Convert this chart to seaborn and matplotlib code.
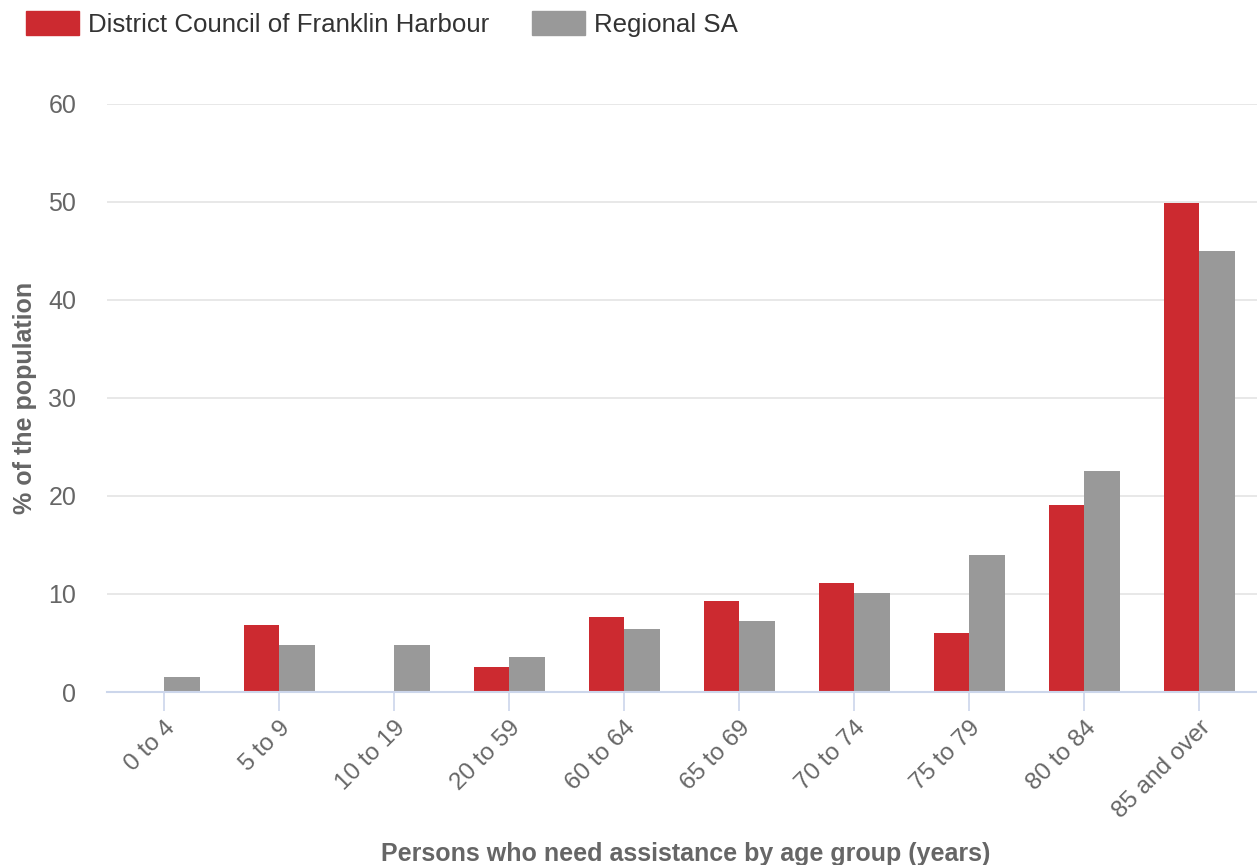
import matplotlib
matplotlib.use("Agg")
import matplotlib.pyplot as plt
import seaborn as sns
import pandas as pd

# data
age_groups = ["0 to 4", "5 to 9", "10 to 19", "20 to 59", "60 to 64",
              "65 to 69", "70 to 74", "75 to 79", "80 to 84", "85 and over"]
franklin = [0.0, 6.8, 0.0, 2.6, 7.7, 9.3, 11.1, 6.0, 19.1, 49.9]
regional = [1.5, 4.8, 4.8, 3.6, 6.4, 7.2, 10.1, 14.0, 22.6, 45.0]
series_names = ["District Council of Franklin Harbour", "Regional SA"]
colors = ["#cc2a30", "#999999"]

df = pd.DataFrame({
    "age": age_groups * 2,
    "value": franklin + regional,
    "area": [series_names[0]] * len(age_groups) + [series_names[1]] * len(age_groups),
})

sns.set_theme(style="white")
plt.rcParams['font.family'] = ['Liberation Sans', 'DejaVu Sans']
txt = "#666666"

fig = plt.figure(figsize=(12.57, 8.65), dpi=100)
ax = fig.add_axes([0.085, 0.2, 0.915, 0.6798])

sns.barplot(data=df, x="age", y="value", hue="area", palette=colors,
            width=0.62, gap=0, saturation=1, linewidth=0, ax=ax, legend=False)

ax.set_ylim(0, 60)
ax.set_xlim(-0.5, 9.5)
ax.set_yticks([0, 10, 20, 30, 40, 50, 60])
ax.yaxis.grid(True, color="#e6e6e6", linewidth=1.3)
ax.set_axisbelow(True)
for s in ["top", "right", "left"]:
    ax.spines[s].set_visible(False)
ax.spines["bottom"].set_color("#ccd6eb")
ax.spines["bottom"].set_linewidth(1.5)
ax.spines["bottom"].set_zorder(5)

ax.tick_params(axis="y", left=False, length=0, pad=22, labelsize=18, labelcolor=txt)
ax.tick_params(axis="x", bottom=True, length=14, width=1.2, color="#ccd6eb", pad=4,
               labelsize=17.5, labelcolor=txt)
for lab in ax.get_xticklabels():
    lab.set_rotation(45)
    lab.set_ha("right")
    lab.set_rotation_mode("anchor")

ax.set_xlabel("Persons who need assistance by age group (years)",
              fontsize=18, fontweight="bold", color=txt)
ax.xaxis.set_label_coords(0.503, -0.255)
ax.set_ylabel("% of the population", fontsize=18, fontweight="bold", color=txt)
ax.yaxis.set_label_coords(-0.061, 0.5)

handles = [plt.Rectangle((0, 0), 1, 1, color=c) for c in colors]
fig.legend(handles, series_names, loc="upper left", bbox_to_anchor=(0.002, 1.014),
           ncol=2, frameon=False, fontsize=18.6, handlelength=2.05, handleheight=1.05,
           handletextpad=0.35, columnspacing=1.65, labelcolor="#333333")

fig.savefig("out.png", dpi=100)
